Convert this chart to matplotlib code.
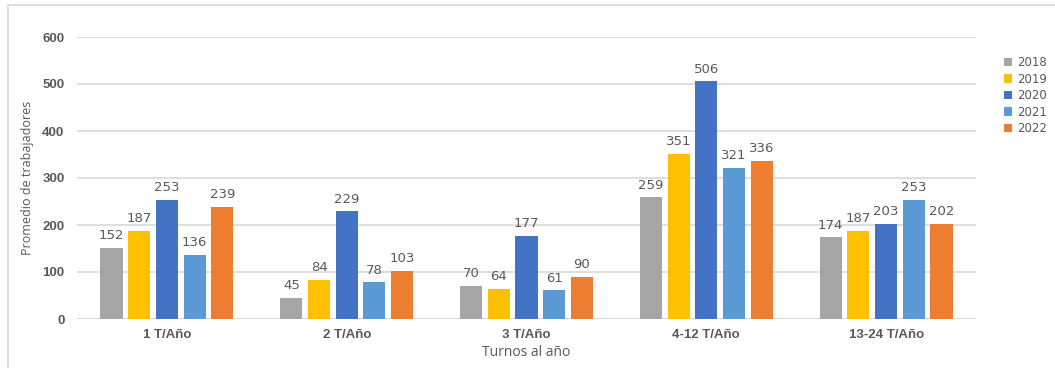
import matplotlib.pyplot as plt
from matplotlib.patches import Rectangle
import numpy as np

# average workers per shift-frequency group, one list per year
categories = ['1 T/Año', '2 T/Año', '3 T/Año', '4-12 T/Año', '13-24 T/Año']
years = ['2018', '2019', '2020', '2021', '2022']
v2018 = [152, 45, 70, 259, 174]
v2019 = [187, 84, 64, 351, 187]
v2020 = [253, 229, 177, 506, 203]
v2021 = [136, 78, 61, 321, 253]
v2022 = [239, 103, 90, 336, 202]
series = [v2018, v2019, v2020, v2021, v2022]
colors = ['#A5A5A5', '#FFC000', '#4472C4', '#5B9BD5', '#ED7D31']

fig = plt.figure(figsize=(10.55, 3.68), dpi=100)
ax = fig.add_axes([77 / 1055, 1 - 319 / 368, (976 - 77) / 1055, (319 - 37) / 368])

# light outer frame, open to the right and bottom
fig.patches.append(Rectangle((8 / 1055, -0.1), 1.2, 1 - 5 / 368 + 0.1,
                             transform=fig.transFigure, fill=False,
                             edgecolor='#D9D9D9', linewidth=1.2))

x = np.arange(len(categories))
pitch = 0.154
width = 0.123
for i, (vals, yr, col) in enumerate(zip(series, years, colors)):
    pos = x + (i - 2) * pitch
    bars = ax.bar(pos, vals, width, color=col, label=yr, zorder=3)
    for b, v in zip(bars, vals):
        ax.text(b.get_x() + b.get_width() / 2, v + 12, str(v),
                ha='center', va='bottom', fontsize=9.5, color='#595959',
                family='DejaVu Sans', zorder=4)

ax.set_xlim(-0.5, len(categories) - 0.5)
ax.set_ylim(0, 600)
ax.set_yticks(range(0, 601, 100))
ax.yaxis.grid(True, color='#D9D9D9', linewidth=1.2, zorder=0)
for s in ax.spines.values():
    s.set_visible(False)
ax.axhline(0, color='#D9D9D9', linewidth=1.5, zorder=2)
ax.tick_params(length=0, pad=9, axis='y')
ax.tick_params(length=0, pad=7, axis='x')
ax.set_xticks(x)
ax.set_xticklabels(categories)
for lbl in ax.get_xticklabels() + ax.get_yticklabels():
    lbl.set_family('Liberation Sans')
    lbl.set_fontweight('bold')
    lbl.set_fontsize(9.5)
    lbl.set_color('#595959')

ax.set_ylabel('Promedio de trabajadores', family='Open Sans', fontsize=9,
              color='#595959', labelpad=6)
ax.set_xlabel('Turnos al año', family='Open Sans', fontsize=10,
              color='#595959', labelpad=3)

leg = ax.legend(loc='upper left', bbox_to_anchor=(1004 / 1055, 1 - 56 / 368),
                bbox_transform=fig.transFigure, frameon=False,
                handlelength=0.7, handleheight=0.7, handletextpad=0.45,
                labelspacing=0.3, borderaxespad=0, borderpad=0,
                prop={'family': 'DejaVu Sans', 'size': 8.5})
for t in leg.get_texts():
    t.set_color('#595959')

fig.savefig('out.png', dpi=100)
